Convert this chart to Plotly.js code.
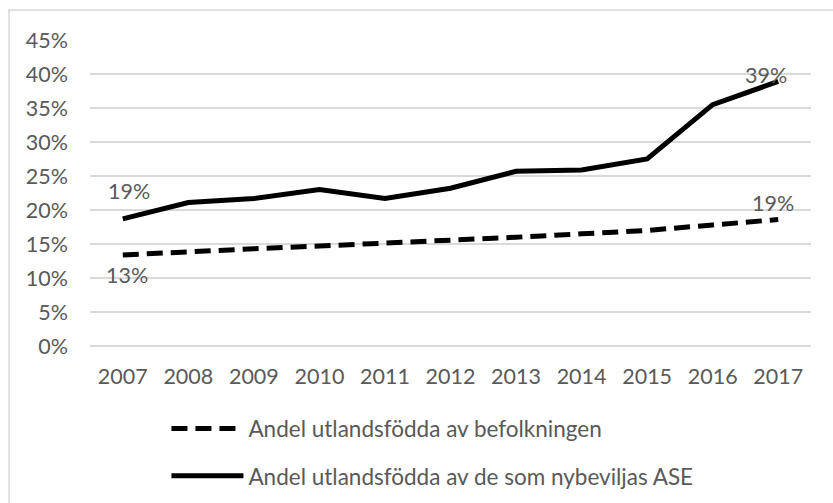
<!DOCTYPE html>
<html>
<head>
<meta charset="utf-8">
<script src="https://cdn.plot.ly/plotly-3.0.1.min.js"></script>
<style>
  html, body { margin: 0; padding: 0; background: #fff; }
  #chart { width: 833px; height: 503px; }
</style>
</head>
<body>
<div id="chart"></div>
<script>
// Years on the category axis
const years = ['2007', '2008', '2009', '2010', '2011', '2012', '2013', '2014', '2015', '2016', '2017'];

// Share of foreign born in the population (percent)
const befolkningen = [13.4, 13.9, 14.3, 14.7, 15.1, 15.5, 16.0, 16.5, 17.0, 17.8, 18.6];

// Share of foreign born among those newly granted ASE (percent)
const nybeviljasASE = [18.7, 21.1, 21.7, 23.0, 21.7, 23.2, 25.7, 25.9, 27.5, 35.5, 38.9];

// Y axis ticks
const yTicks = [0, 5, 10, 15, 20, 25, 30, 35, 40, 45];

const seriesNames = [
    'Andel utlandsfödda av befolkningen',
    'Andel utlandsfödda av de som nybeviljas ASE'
];

const PCT = '\u0025';
const textColor = '#595959';
const gridColor = '#d9d9d9';
const fontFamily = 'Lato, "Open Sans", sans-serif';

const traces = [
    {
        x: years,
        y: befolkningen,
        type: 'scatter',
        mode: 'lines',
        name: seriesNames[0],
        legendgroup: 'a',
        line: { color: '#000000', width: 5, dash: '16px,8px' }
    },
    {
        x: years,
        y: nybeviljasASE,
        type: 'scatter',
        mode: 'lines',
        name: seriesNames[1],
        legendgroup: 'b',
        line: { color: '#000000', width: 5 }
    }
];

// Data labels on first and last points only (x as category index)
const last = years.length - 1;
const annotations = [
    { x: 0, y: nybeviljasASE[0], text: Math.round(nybeviljasASE[0]) + PCT, xshift: 6, yshift: 28 },
    { x: 0, y: befolkningen[0], text: Math.round(befolkningen[0]) + PCT, xshift: 4, yshift: -20 },
    { x: last, y: nybeviljasASE[last], text: Math.round(nybeviljasASE[last]) + PCT, xshift: -12, yshift: 6 },
    { x: last, y: befolkningen[last], text: Math.round(befolkningen[last]) + PCT, xshift: -5, yshift: 17 }
].map(a => Object.assign(a, {
    xref: 'x', yref: 'y', showarrow: false,
    font: { family: fontFamily, size: 21.5, color: textColor }
}));

const layout = {
    width: 833,
    height: 503,
    paper_bgcolor: '#ffffff',
    plot_bgcolor: '#ffffff',
    font: { family: fontFamily, size: 21.5, color: textColor },
    margin: { l: 90, r: 22, t: 40, b: 157 },
    showlegend: true,
    legend: {
        xref: 'paper',
        yref: 'container',
        x: 0.106,
        y: 0.19,
        xanchor: 'left',
        yanchor: 'top',
        traceorder: 'grouped',
        tracegroupgap: 15,
        itemwidth: 72,
        font: { family: fontFamily, size: 22.5, color: textColor },
        bgcolor: 'rgba(0,0,0,0)'
    },
    xaxis: {
        type: 'category',
        range: [-0.5, 10.5],
        showgrid: false,
        zeroline: false,
        showline: false,
        ticks: '',
        ticklabelstandoff: 15,
        tickfont: { family: fontFamily, size: 21.5, color: textColor }
    },
    yaxis: {
        range: [0, 45],
        tickmode: 'array',
        tickvals: yTicks,
        ticktext: yTicks.map(v => v + PCT),
        showgrid: true,
        gridcolor: gridColor,
        gridwidth: 1.5,
        zeroline: true,
        zerolinecolor: gridColor,
        zerolinewidth: 1.5,
        showline: false,
        ticks: '',
        ticklabelstandoff: 21,
        tickfont: { family: fontFamily, size: 21.5, color: textColor }
    },
    annotations: annotations,
    shapes: [
        {
            type: 'rect',
            xref: 'paper', yref: 'paper',
            x0: -0.1123, x1: 1.05,
            y0: -0.6, y1: 1.098,
            line: { color: gridColor, width: 1.5 },
            fillcolor: 'rgba(0,0,0,0)',
            layer: 'below'
        }
    ]
};

Plotly.newPlot('chart', traces, layout, { displayModeBar: false });
</script>
</body>
</html>
